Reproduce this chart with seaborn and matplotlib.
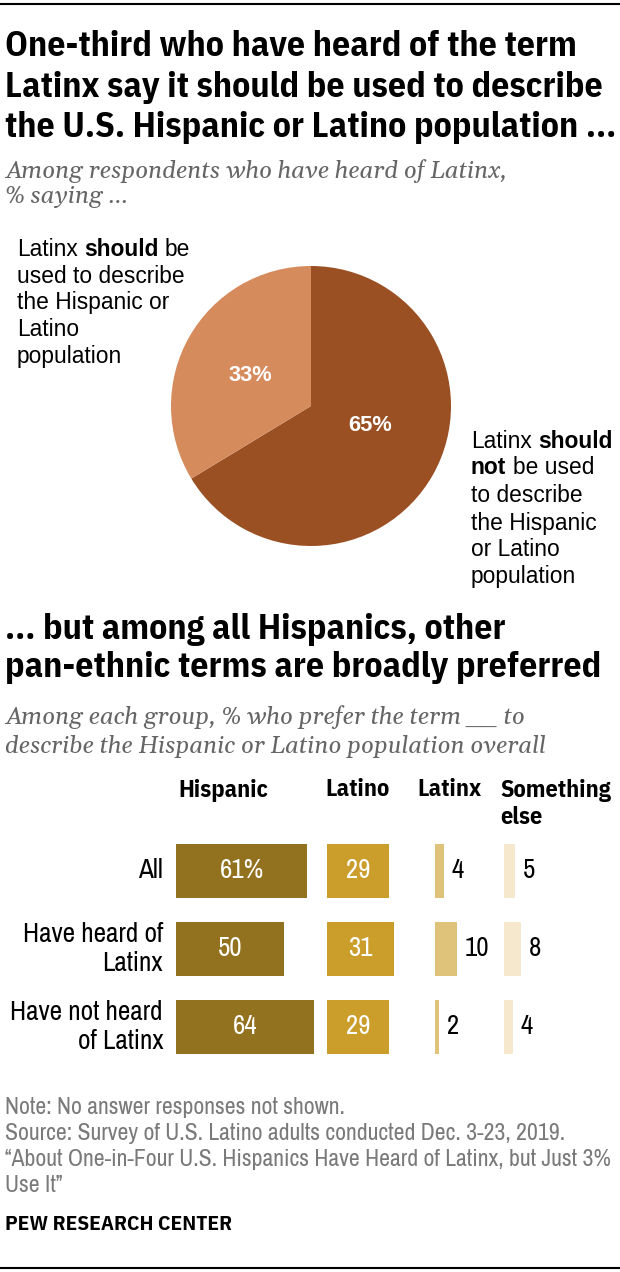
import matplotlib
matplotlib.use('Agg')
import matplotlib.pyplot as plt
import seaborn as sns
import pandas as pd
import numpy as np

# ==================== data ====================
pie_labels = ['should not', 'should']
pie_values = [65, 33]

groups = ['All', 'Have heard of\nLatinx', 'Have not heard\nof Latinx']
terms = ['Hispanic', 'Latino', 'Latinx', 'Something\nelse']
hispanic = [61, 50, 64]
latino = [29, 31, 29]
latinx = [4, 10, 2]
something_else = [5, 8, 4]

W, H = 620, 1272
PX_PER_UNIT = 2.15

BOLDC = ['IBM Plex Sans Condensed', 'DejaVu Sans']
COND = ['Archivo Narrow', 'DejaVu Sans']
SANS = ['Liberation Sans', 'DejaVu Sans']
SERIF = ['Gelasio', 'DejaVu Serif']

sns.set_theme(style='white')
plt.rcParams['font.family'] = SANS
plt.rcParams['text.color'] = 'black'

fig = plt.figure(figsize=(W / 100, H / 100), dpi=100)


def ftext(x, y, s, **kw):
    kw.setdefault('va', 'center')
    return fig.text(x / W, 1 - y / H, s, **kw)


def text_width(s, **kw):
    t = fig.text(0, 0, s, **kw)
    r = fig.canvas.get_renderer()
    w = t.get_window_extent(renderer=r).width
    t.remove()
    return w


def fit_size(s, target, **kw):
    return 20 * target / text_width(s, fontsize=20, **kw)


def rich_line(x, y, runs, size, family):
    sp = text_width('n n', fontsize=size, family=family) - text_width('nn', fontsize=size, family=family)
    cx = x
    for s, wt in runs:
        ftext(cx, y, s, fontsize=size, family=family, fontweight=wt, ha='left')
        cx += text_width(s, fontsize=size, family=family, fontweight=wt) + sp


# rules
fig.add_artist(plt.Line2D([0, 1], [1 - 4 / H, 1 - 4 / H], color='black', lw=1.5))
fig.add_artist(plt.Line2D([0, 1], [1 - 1268 / H, 1 - 1268 / H], color='black', lw=1.5))

# ==================== titles ====================
tsize = fit_size('Latinx say it should be used to describe', 597, family=BOLDC, fontweight='bold')
title_kw = dict(fontsize=tsize, family=BOLDC, fontweight='bold', ha='left', color='black')
ftext(5, 47, 'One-third who have heard of the term', **title_kw)
ftext(5, 87, 'Latinx say it should be used to describe', **title_kw)
ftext(5, 127, 'the U.S. Hispanic or Latino population ...', **title_kw)

ssize = fit_size('Among respondents who have heard of Latinx,', 502, family=SERIF, style='italic')
sub_kw = dict(fontsize=ssize, family=SERIF, style='italic', ha='left', color='#666666')
ftext(5, 171, 'Among respondents who have heard of Latinx,', **sub_kw)
ftext(5, 197, '% saying ...', **sub_kw)

# ==================== pie ====================
cx, cy, rad = 311, 406, 140
ax_pie = fig.add_axes([(cx - rad) / W, 1 - (cy + rad) / H, 2 * rad / W, 2 * rad / H])
wedges, _ = ax_pie.pie(pie_values, colors=['#9b5024', '#d68b5d'], startangle=90,
                       counterclock=False, radius=1, wedgeprops=dict(linewidth=0))
ax_pie.set_xlim(-1, 1)
ax_pie.set_ylim(-1, 1)
ax_pie.set_aspect('equal')
ax_pie.axis('off')
psize = fit_size('33%', 44, family=SANS, fontweight='bold')
ax_pie.text(0.42, -0.14, f'{pie_values[0]}%', color='white', fontsize=psize,
            fontweight='bold', ha='center', va='center', family=SANS)
ax_pie.text(-0.43, 0.22, f'{pie_values[1]}%', color='white', fontsize=psize,
            fontweight='bold', ha='center', va='center', family=SANS)

lab_size = fit_size('used to describe', 167, family=SANS)
rich_line(17, 249, [('Latinx', 'normal'), ('should', 'bold'), ('be', 'normal')], lab_size, SANS)
for i, s in enumerate(['used to describe', 'the Hispanic or', 'Latino', 'population']):
    ftext(17, 276 + 27 * i, s, fontsize=lab_size, family=SANS, ha='left')

rich_line(471, 441, [('Latinx', 'normal'), ('should', 'bold')], lab_size, SANS)
rich_line(471, 468, [('not', 'bold'), ('be used', 'normal')], lab_size, SANS)
for i, s in enumerate(['to describe', 'the Hispanic', 'or Latino', 'population']):
    ftext(471, 496 + 27 * i, s, fontsize=lab_size, family=SANS, ha='left')

# ==================== second title ====================
ftext(5, 630, '... but among all Hispanics, other', **title_kw)
ftext(5, 668, 'pan-ethnic terms are broadly preferred', **title_kw)
ftext(5, 717, 'Among each group, % who prefer the term __ to', **sub_kw)
ftext(5, 746, 'describe the Hispanic or Latino population overall', **sub_kw)

# ==================== bars ====================
series = [hispanic, latino, latinx, something_else]
colors = ['#93721f', '#cb9e2c', '#dfc37b', '#f5e8cd']
col_x = [(176, 320), (327, 427), (435, 495), (504, 600)]
head_x = [178, 325, 417, 500]
inside = [True, True, False, False]

hsize = fit_size('Hispanic', 90, family=BOLDC, fontweight='bold')
vsize = fit_size('61%', 44, family=COND)
top_px, bot_px = 832, 1066
for j, (vals, col, (x0, x1)) in enumerate(zip(series, colors, col_x)):
    ax = fig.add_axes([x0 / W, 1 - bot_px / H, (x1 - x0) / W, (bot_px - top_px) / H])
    df = pd.DataFrame({'group': groups, 'value': vals})
    sns.barplot(data=df, x='value', y='group', orient='h', color=col, saturation=1,
                width=0.69, ax=ax, linewidth=0)
    ax.set_xlim(0, (x1 - x0) / PX_PER_UNIT)
    ax.set_ylim(2.5, -0.5)
    ax.axis('off')
    for i, p in enumerate(ax.patches):
        v = vals[i]
        lab = f'{v}%' if (j == 0 and i == 0) else f'{v}'
        yc = p.get_y() + p.get_height() / 2
        if inside[j]:
            ax.text(p.get_width() / 2, yc, lab, color='white', fontsize=vsize,
                    ha='center', va='center', family=COND)
        else:
            ax.text(p.get_width() + 8 / PX_PER_UNIT, yc, lab, color='black', fontsize=vsize,
                    ha='left', va='center', family=COND)
    for k, s in enumerate(terms[j].split('\n')):
        ftext(head_x[j], 790 + 27 * k, s, fontsize=hsize, family=BOLDC, fontweight='bold', ha='left')

# row labels
rsize = fit_size('Have not heard', 153, family=COND)
row_y = [871, 949, 1027]
for g, yy in zip(groups, row_y):
    ftext(163, yy, g, fontsize=rsize, family=COND, ha='right', linespacing=1.2)

# ==================== notes ====================
nsize = fit_size('\u201cAbout One-in-Four U.S. Hispanics Have Heard of Latinx, but Just 3%', 608, family=COND)
note_kw = dict(fontsize=nsize, family=COND, ha='left', color='#7a7a7a')
ftext(5, 1108, 'Note: No answer responses not shown.', **note_kw)
ftext(5, 1134, 'Source: Survey of U.S. Latino adults conducted Dec. 3-23, 2019.', **note_kw)
ftext(5, 1160, '\u201cAbout One-in-Four U.S. Hispanics Have Heard of Latinx, but Just 3%', **note_kw)
ftext(5, 1186, 'Use It\u201d', **note_kw)
pew = fit_size('PEW RESEARCH CENTER', 226, family=BOLDC, fontweight='bold')
ftext(5, 1225, 'PEW RESEARCH CENTER', fontsize=pew, family=BOLDC, fontweight='bold', ha='left')

fig.savefig('out.png', dpi=100)
